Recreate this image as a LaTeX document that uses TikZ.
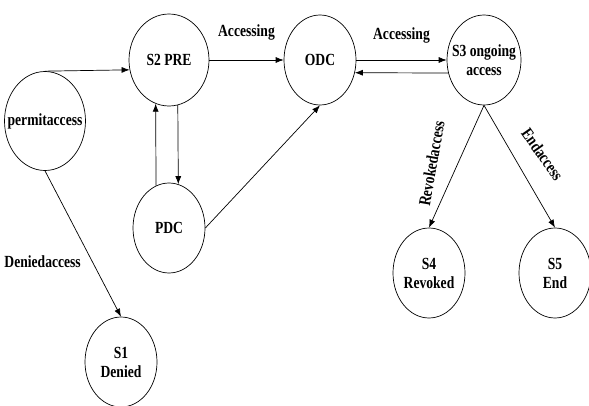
\documentclass[tikz,border=0pt]{standalone}
\usepackage{fontspec}
\setmainfont{Liberation Serif}[FakeStretch=0.8]
\usetikzlibrary{shapes.geometric,arrows.meta}
\begin{document}
\begin{tikzpicture}[x=1pt, y=-1pt, node distance=151pt, >={Latex[length=8pt,width=6pt]}, line width=0.7pt,
    stnode/.style={ellipse, draw, inner xsep=-12pt, inner ysep=0pt, minimum width=72pt,
      minimum height=90pt, align=center, font=\bfseries\fontsize{17}{19}\selectfont},
    lbl/.style={inner sep=0pt, font=\bfseries\fontsize{17}{19}\selectfont}]
    \useasboundingbox (0,0) rectangle (589,405);
    \node[stnode, minimum width=80pt, minimum height=92pt] (s2) at (169,60) {S2 PRE};
    \node[stnode] (odc) [right of=s2] {ODC};
    \node[stnode, minimum width=74pt] (s3) [right of=odc, node distance=164pt] {S3 ongoing\\access};
    \node[stnode] (pdc) [below of=s2, node distance=168pt] {PDC};
    \node[stnode, minimum width=81pt, minimum height=99pt] (pa) [left of=s2, node distance=124pt, yshift=-61pt] {permitaccess};
    \node[stnode] (s1) [below of=pa, node distance=241pt, xshift=76pt] {S1\\Denied};
    \node[stnode] (s4) [below of=s3, node distance=213pt, xshift=-55pt] {S4\\Revoked};
    \node[stnode] (s5) [right of=s4, node distance=126pt] {S5\\End};
    \draw[->] (pa.north) -- (s2.194);
    \draw[->] (s2.east) -- node[lbl, above=19pt] {Accessing} (odc.west);
    \draw[->] (odc.east) -- node[lbl, above=16pt] {Accessing} (s3.west);
    \draw[->] (s3.200) -- (odc.-20);
    \draw[->] (s2.281) -- (pdc.78);
    \draw[->] (pdc.107) -- (s2.253);
    \draw[->] (pdc.east) -- (odc.south);
    \draw[->] (pa.south) -- node[lbl, pos=0.62, left=11pt] {Deniedaccess} (s1.north);
    \draw[->] (s3.south) -- node[lbl, midway, xshift=-25pt, yshift=3pt, rotate=80] {Revokedaccess} (s4.north);
    \draw[->] (s3.south) -- node[lbl, midway, xshift=23pt, yshift=12pt, rotate=-55] {Endaccess} (s5.north);
\end{tikzpicture}
\end{document}
